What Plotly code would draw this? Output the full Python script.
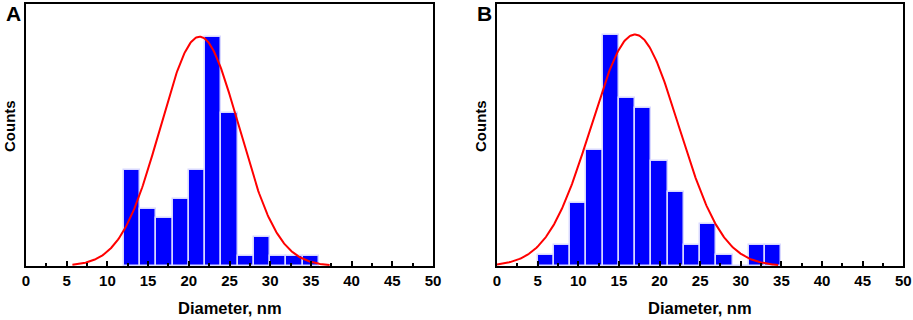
import numpy as np
import plotly.graph_objects as go

# ---- data ----
bin_width = 2
bins_a_left = [12, 14, 16, 18, 20, 22, 24, 26, 28, 30, 32, 34]
counts_a = [10, 6, 5, 7, 10, 24, 16, 1, 3, 1, 1, 1]
bins_b_left = [5, 7, 9, 11, 13, 15, 17, 19, 21, 23, 25, 27, 29, 31, 33]
counts_b = [1, 2, 6, 11, 22, 16, 15, 10, 7, 2, 4, 1, 0, 2, 2]
fit_range_a = [5.7, 37.3]
fit_range_b = [0.0, 34.6]
x_ticks = [0, 5, 10, 15, 20, 25, 30, 35, 40, 45, 50]
panel_labels = ["A", "B"]
x_title = "Diameter, nm"
y_title = "Counts"

FONT = "Liberation Sans, Arial, sans-serif"


def gauss_fit(lefts, counts, xr):
    centers = np.array(lefts) + bin_width / 2
    w = np.array(counts, dtype=float)
    mu = (w * centers).sum() / w.sum()
    sd = np.sqrt((w * (centers - mu) ** 2).sum() / w.sum())
    amp = max(counts)
    xs = np.linspace(xr[0], xr[1], 300)
    return xs, amp * np.exp(-((xs - mu) ** 2) / (2 * sd ** 2))


fig = go.Figure()
panels = [
    (bins_a_left, counts_a, fit_range_a, "x", "y"),
    (bins_b_left, counts_b, fit_range_b, "x2", "y2"),
]
for lefts, counts, fr, xa, ya in panels:
    centers = [l + bin_width / 2 for l in lefts]
    fig.add_trace(go.Bar(
        x=centers, y=counts, width=bin_width,
        marker=dict(color="#0000FF", line=dict(color="#d8d8ff", width=1.5)),
        xaxis=xa, yaxis=ya, showlegend=False, hoverinfo="x+y"))
    fx, fy = gauss_fit(lefts, counts, fr)
    fig.add_trace(go.Scatter(
        x=fx, y=fy, mode="lines", line=dict(color="#FF0000", width=2),
        xaxis=xa, yaxis=ya, showlegend=False, hoverinfo="skip", cliponaxis=True))

W, H = 913, 320


def px(x):
    return x / W


def py(y):
    return (H - y) / H


dom_a = [px(26), px(433)]
dom_b = [px(497), px(903.3)]
ydom = [py(266), py(4)]

xcommon = dict(
    range=[0, 50], tickvals=x_ticks, ticks="inside", ticklen=5, tickwidth=1.5,
    tickcolor="black",
    minor=dict(ticks="inside", ticklen=3, dtick=2.5, tick0=0, tickcolor="black", tickwidth=1.5),
    showline=True, linecolor="black", linewidth=2, mirror=True,
    showgrid=False, zeroline=False, automargin=False,
    tickfont=dict(family=FONT, size=15, color="black", weight="bold"),
    fixedrange=True,
)
ycommon = dict(
    showline=True, linecolor="black", linewidth=2, mirror=True,
    showgrid=False, zeroline=False, showticklabels=False, ticks="",
    automargin=False, fixedrange=True,
)

fig.update_layout(
    width=W, height=H,
    margin=dict(l=0, r=0, t=0, b=0, autoexpand=False),
    paper_bgcolor="white", plot_bgcolor="white",
    bargap=0,
    xaxis=dict(domain=dom_a, anchor="y", **xcommon),
    yaxis=dict(domain=ydom, anchor="x", range=[0, 27.42], **ycommon),
    xaxis2=dict(domain=dom_b, anchor="y2", **xcommon),
    yaxis2=dict(domain=ydom, anchor="x2", range=[0, 24.9], **ycommon),
)

ann = []
for i, (l, r) in enumerate([(26, 433), (497, 903.3)]):
    ann.append(dict(text=x_title, x=px((l + r) / 2), y=py(308), xref="paper", yref="paper",
                    xanchor="center", yanchor="middle", showarrow=False,
                    font=dict(family=FONT, size=16.5, color="black", weight="bold")))
    ann.append(dict(text=y_title, x=px(l - 17), y=py(126),
                    xref="paper", yref="paper", textangle=-90,
                    xanchor="center", yanchor="middle", showarrow=False,
                    font=dict(family=FONT, size=15, color="black", weight="bold")))
    ann.append(dict(text=panel_labels[i], x=px(l - 13), y=py(13),
                    xref="paper", yref="paper",
                    xanchor="center", yanchor="middle", showarrow=False,
                    font=dict(family=FONT, size=21, color="black", weight="bold")))
fig.update_layout(annotations=ann)

# remove the browser's default 8px body margin so the figure fills the window
fig.write_html("out.html",
               config={"displayModeBar": False},
               post_script="document.body.style.margin='0px';document.body.style.overflow='hidden';")
